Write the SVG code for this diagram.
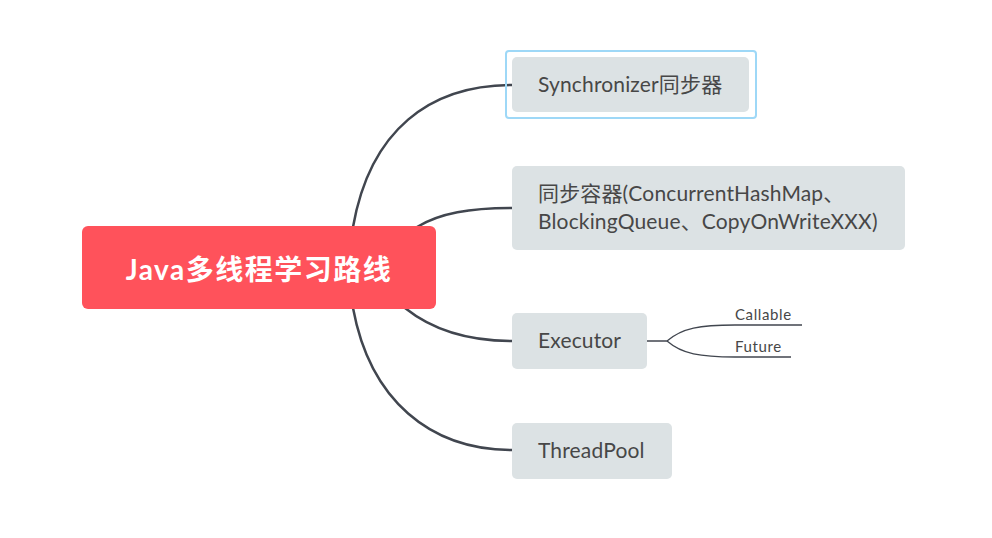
<svg xmlns="http://www.w3.org/2000/svg" width="992" height="538" viewBox="0 0 992 538">
<style>
.node{fill:#DCE2E4}
.lbl{font-family:"Lato","Noto Sans","Noto Sans CJK SC",sans-serif;font-size:21px;letter-spacing:0.15px;fill:#474747}
.sub{font-family:"Lato","Noto Sans",sans-serif;font-size:15px;letter-spacing:0.6px;fill:#474747}
.main{stroke:#41464F;stroke-width:2.5;fill:none}
.thin{stroke:#41464F;stroke-width:1.3;fill:none}
</style>
<rect width="992" height="538" fill="#ffffff"/>
<g id="connectors">
<path class="main" d="M353,227 C370,130 430,85 512,85"/>
<path class="main" d="M417,227 C440,213 470,208 512,208"/>
<path class="main" d="M405,308 C430,328 465,341 512,341"/>
<path class="main" d="M353,308 C370,400 430,450 512,450"/>
<path class="thin" d="M647,341 H667 C682,328 700,325 735,325 H802"/>
<path class="thin" d="M667,341 C682,354 700,357 735,357 H791"/>
</g>
<g id="root">
<rect x="82" y="226" width="354" height="83" rx="6" fill="#FF525B"/>
<text x="259" y="280" text-anchor="middle" font-family="Lato,'Noto Sans CJK SC',sans-serif" font-size="28" font-weight="bold" letter-spacing="1.5" fill="#ffffff">Java多线程学习路线</text>
</g>
<g id="synchronizer">
<rect x="506" y="51" width="250" height="67" rx="3" fill="none" stroke="#9ED8F7" stroke-width="2"/>
<rect class="node" x="512" y="57" width="237" height="55" rx="5"/>
<text class="lbl" x="538" y="92">Synchronizer同步器</text>
</g>
<g id="containers">
<rect class="node" x="512" y="166" width="393" height="84" rx="5"/>
<text class="lbl" x="538" y="201">同步容器(ConcurrentHashMap、</text>
<text class="lbl" x="538" y="229">BlockingQueue、CopyOnWriteXXX)</text>
</g>
<g id="executor">
<rect class="node" x="512" y="313" width="135" height="56" rx="5"/>
<text class="lbl" x="538" y="348">Executor</text>
</g>
<g id="callable">
<text class="sub" x="735" y="320">Callable</text>
</g>
<g id="future">
<text class="sub" x="735" y="352">Future</text>
</g>
<g id="threadpool">
<rect class="node" x="512" y="423" width="160" height="56" rx="5"/>
<text class="lbl" x="538" y="458">ThreadPool</text>
</g>
</svg>
